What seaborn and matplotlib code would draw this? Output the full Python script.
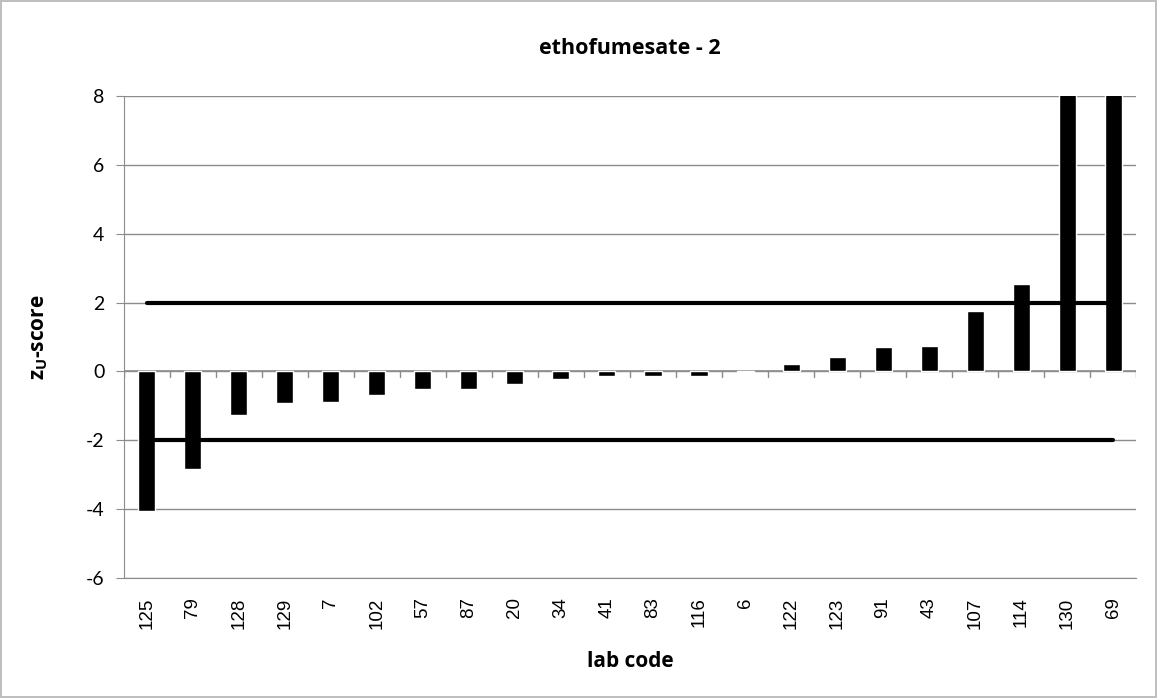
import matplotlib
matplotlib.use("Agg")
import matplotlib.pyplot as plt
import seaborn as sns

# lab codes and z_U-scores (last two go off the top)
labs = ["125", "79", "128", "129", "7", "102", "57", "87", "20", "34", "41",
        "83", "116", "6", "122", "123", "91", "43", "107", "114", "130", "69"]
scores = [-4.05, -2.84, -1.28, -0.92, -0.89, -0.70, -0.51, -0.51, -0.38, -0.22, -0.13,
          -0.13, -0.13, -0.02, 0.22, 0.43, 0.70, 0.74, 1.74, 2.54, 10.5, 14.0]
upper_limit = [2] * len(labs)
lower_limit = [-2] * len(labs)

sns.set_style("white")
plt.rcParams["font.family"] = ["Open Sans", "DejaVu Sans"]
plt.rcParams["mathtext.fontset"] = "custom"
plt.rcParams["mathtext.rm"] = "Open Sans"
plt.rcParams["mathtext.bf"] = "Open Sans:bold"
plt.rcParams["axes.unicode_minus"] = False
plt.rcParams["text.color"] = "black"
plt.rcParams["axes.labelcolor"] = "black"
plt.rcParams["xtick.color"] = "black"
plt.rcParams["ytick.color"] = "black"

grey = "#8c8c8c"

fig = plt.figure(figsize=(11.57, 6.98), dpi=100, edgecolor="#bfbfbf", linewidth=1.5)
ax = fig.add_axes([0.107, 0.172, 0.875, 0.6905])

sns.barplot(x=labs, y=scores, order=labs, color="black", width=0.37,
            saturation=1, ax=ax, zorder=3)

xs = list(range(len(labs)))
ax.plot(xs, upper_limit, color="black", lw=3, zorder=4)
ax.plot(xs, lower_limit, color="black", lw=3, zorder=4)

ax.set_ylim(-6, 8)
ax.set_xlim(-0.5, len(labs) - 0.5)
ax.set_yticks(range(-6, 9, 2))
ax.yaxis.grid(True, color=grey, lw=1)
ax.set_axisbelow(True)

# zero line with category-boundary ticks below it
ax.axhline(0, color=grey, lw=1.2, zorder=2)
for b in range(len(labs) + 1):
    ax.plot([b - 0.5, b - 0.5], [-0.17, 0], color=grey, lw=1, zorder=2)

for s in ["top", "right"]:
    ax.spines[s].set_visible(False)
ax.spines["left"].set_color(grey)
ax.spines["bottom"].set_color(grey)

ax.tick_params(axis="y", length=6, color=grey, labelcolor="black", labelsize=14, pad=8, left=True)
for t in ax.get_yticklabels():
    t.set_family(["Lato", "DejaVu Sans"])
ax.tick_params(axis="x", length=0, labelcolor="black", pad=14)
for t in ax.get_xticklabels():
    t.set_rotation(90)
    t.set_family(["Liberation Sans", "DejaVu Sans"])
    t.set_fontsize(13.5)

ax.set_title("ethofumesate - 2", fontsize=15.5, fontweight="bold", pad=30)
ax.set_xlabel("lab code", fontsize=15, fontweight="bold", labelpad=16)
ax.set_ylabel(r"$\mathbf{z}_\mathbf{U}$-score", fontsize=15, fontweight="bold", labelpad=26)

fig.savefig("out.png", dpi=100, edgecolor=fig.get_edgecolor())
